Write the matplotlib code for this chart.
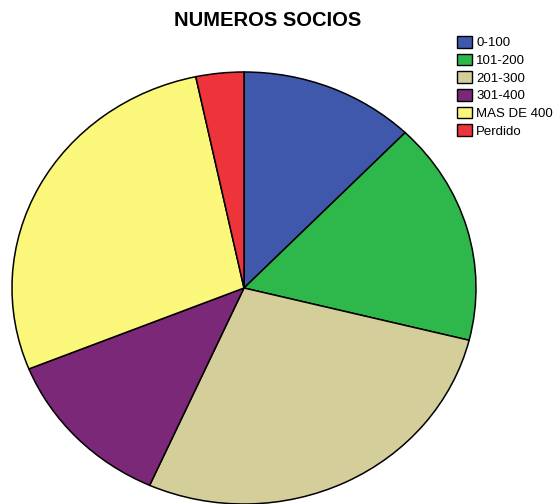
import matplotlib
matplotlib.use("Agg")
import matplotlib.pyplot as plt
from matplotlib.patches import Patch

categories = ["0-100", "101-200", "201-300", "301-400", "MAS DE 400", "Perdido"]
counts = [11, 15, 25, 11, 25, 3]
colors = ["#3F58AB", "#2EB84B", "#D4CF9A", "#7B2878", "#FBF77A", "#EE343B"]

plt.rcParams['font.family'] = ['Liberation Sans', 'DejaVu Sans']

fig = plt.figure(figsize=(5.56, 5.04), dpi=100)
ax = fig.add_axes([12/556, 0.0, 464/556, 432/504])
wedges, _ = ax.pie(counts, colors=colors, startangle=90, counterclock=False,
                   wedgeprops=dict(edgecolor="black", linewidth=1.1))
for w in wedges:
    w.set_clip_on(False)
ax.set_aspect('auto')
ax.set_xlim(-1, 1)
ax.set_ylim(-1, 1)
ax.axis('off')

fig.text(267.5/556, 1 - 21/504, "NUMEROS SOCIOS", ha="center", va="center",
         fontsize=14.5, fontweight="bold")

handles = [Patch(facecolor=c, edgecolor="black", linewidth=1.0) for c in colors]
fig.legend(handles, categories, loc="upper left", bbox_to_anchor=(457/556, 1 - 36/504),
           frameon=False, fontsize=9.5, handlelength=1.1, handleheight=1.0,
           handletextpad=0.35, labelspacing=0.32, borderaxespad=0, borderpad=0)

fig.savefig("out.png", dpi=100)
